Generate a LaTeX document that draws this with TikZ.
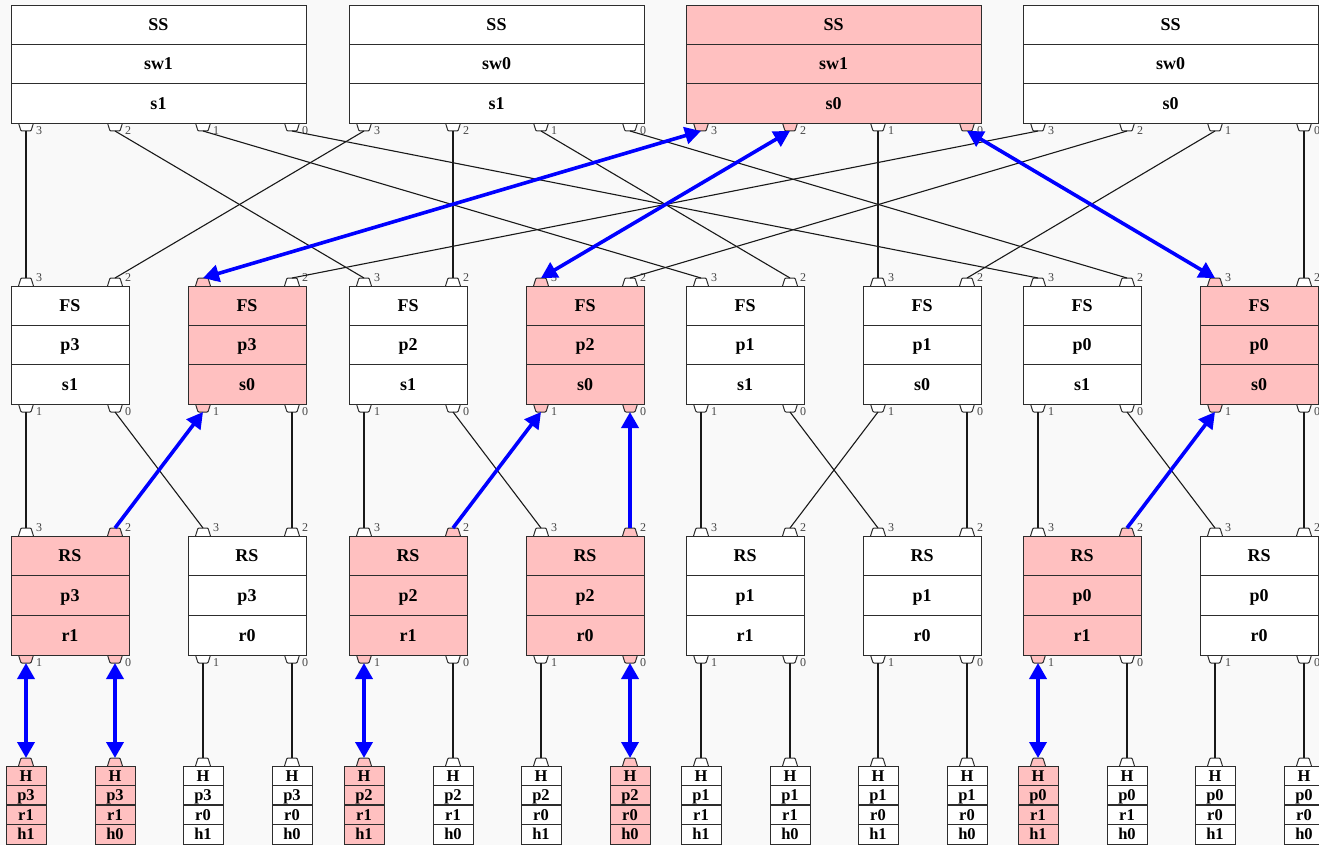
\documentclass[tikz,border=0pt]{standalone}
\usepackage{fontspec}
\setmainfont{Liberation Serif}
\usetikzlibrary{arrows.meta}
\definecolor{pinkfill}{RGB}{255,192,192}
\definecolor{bg}{RGB}{249,249,249}
\definecolor{edge}{RGB}{45,45,45}
\definecolor{lbl}{RGB}{70,70,70}
\definecolor{hotblue}{RGB}{0,0,255}

\newcommand\sethot[1]{\expandafter\def\csname hot-#1\endcsname{}}
\sethot{ss3p3}\sethot{ss3p2}\sethot{ss3p0}
\sethot{fs2p3}\sethot{fs4p3}\sethot{fs8p3}
\sethot{fs2p1}\sethot{fs4p1}\sethot{fs4p0}\sethot{fs8p1}
\sethot{rs1p2}\sethot{rs3p2}\sethot{rs4p2}\sethot{rs7p2}
\sethot{rs1p1}\sethot{rs1p0}\sethot{rs3p1}\sethot{rs4p0}\sethot{rs7p1}
\sethot{h1}\sethot{h2}\sethot{h5}\sethot{h8}\sethot{h13}

\tikzset{
  swbox/.style={draw=edge, line width=1.3pt, rectangle, inner sep=0pt, anchor=north west},
  boxline/.style={draw=edge, line width=1.3pt},
  rowtxt/.style={font=\fontsize{18}{20}\selectfont\bfseries, inner sep=0pt, text height=11.9pt, text depth=0pt},
  hosttxt/.style={font=\fontsize{16.5}{18}\selectfont\bfseries, inner sep=0pt, text height=10.9pt, text depth=0pt},
  portshape/.style={draw=edge, line width=1pt, rounded corners=1pt},
  portlbl/.style={font=\fontsize{12}{13}\selectfont, text=lbl, anchor=west, inner sep=0pt},
  link/.style={draw=black!90, line width=1.1pt},
  hot/.style={draw=hotblue, line width=3.6pt},
  both/.style={hot, {Triangle[length=16pt,width=17pt]}-{Triangle[length=16pt,width=17pt]}},
  one/.style={hot, -{Triangle[length=16pt,width=17pt]}},
}

% port below a box edge at y
\newcommand\portdn[4]{%
  \ifcsname hot-#1\endcsname\def\pf{pinkfill}\else\def\pf{white}\fi
  \filldraw[portshape, fill=\pf] ({#2-7.5},#3) -- ({#2-5},{#3+8}) -- ({#2+5},{#3+8}) -- ({#2+7.5},#3);
  \coordinate (#1) at (#2,{#3+8});
  \node[portlbl] at ({#2+10},{#3+8}) {#4};
}
% port above a box edge at y
\newcommand\portup[4]{%
  \ifcsname hot-#1\endcsname\def\pf{pinkfill}\else\def\pf{white}\fi
  \filldraw[portshape, fill=\pf] ({#2-7.5},#3) -- ({#2-5},{#3-8}) -- ({#2+5},{#3-8}) -- ({#2+7.5},#3);
  \coordinate (#1) at (#2,{#3-8});
  \node[portlbl] at ({#2+10},{#3-8}) {#4};
}
\newcommand\hostport[2]{%
  \ifcsname hot-#1\endcsname\def\pf{pinkfill}\else\def\pf{white}\fi
  \filldraw[portshape, fill=\pf] ({#2-7.5},766) -- ({#2-5},758) -- ({#2+5},758) -- ({#2+7.5},766);
  \coordinate (#1) at (#2,758);
}
% three-row box: name, left, top, width, height, fill, t1, t2, t3
\newcommand\tribox[9]{%
  \node[swbox, fill=#6, minimum width=#4pt, minimum height=#5pt] (#1) at (#2,#3) {};
  \draw[boxline] (#2,{#3+#5/3}) -- ({#2+#4},{#3+#5/3});
  \draw[boxline] (#2,{#3+2*#5/3}) -- ({#2+#4},{#3+2*#5/3});
  \node[rowtxt] (#1-t1) at ({#2+#4/2},{#3+#5/6}) {#7};
  \node[rowtxt] (#1-t2) at ({#2+#4/2},{#3+#5/2}) {#8};
  \node[rowtxt] (#1-t3) at ({#2+#4/2},{#3+5*#5/6}) {#9};
}
% host box: name, centre x, fill, t2, t3, t4
\newcommand\hostbox[6]{%
  \node[swbox, fill=#3, minimum width=40pt, minimum height=78pt] (#1box) at ({#2-20},766) {};
  \draw[boxline] ({#2-20},785.5) -- ({#2+20},785.5);
  \draw[boxline] ({#2-20},805) -- ({#2+20},805);
  \draw[boxline] ({#2-20},824.5) -- ({#2+20},824.5);
  \node[hosttxt] (#1-t1) at (#2,775.75) {H};
  \node[hosttxt] (#1-t2) at (#2,795.25) {#4};
  \node[hosttxt] (#1-t3) at (#2,814.75) {#5};
  \node[hosttxt] (#1-t4) at (#2,834.25) {#6};
}

\begin{document}
\begin{tikzpicture}[x=1pt,y=-1pt]
\useasboundingbox (0,0) rectangle (1319,845);
\fill[bg] (0,0) rectangle (1319,845);

% ---- ports ----
\foreach \i/\L in {1/11,2/349,3/686,4/1023}{
  \foreach \p/\dx in {3/15,2/104,1/192,0/281}{
    \portdn{ss\i p\p}{\L+\dx}{123}{\p}
  }
}
\foreach \i/\L in {1/11,2/188,3/349,4/526,5/686,6/863,7/1023,8/1200}{
  \portup{fs\i p3}{\L+15}{286}{3}
  \portup{fs\i p2}{\L+104}{286}{2}
  \portdn{fs\i p1}{\L+15}{404}{1}
  \portdn{fs\i p0}{\L+104}{404}{0}
  \portup{rs\i p3}{\L+15}{536}{3}
  \portup{rs\i p2}{\L+104}{536}{2}
  \portdn{rs\i p1}{\L+15}{655}{1}
  \portdn{rs\i p0}{\L+104}{655}{0}
}
\foreach \i/\c in {1/26,2/115,3/203,4/292,5/364,6/453,7/541,8/630,9/701,10/790,11/878,12/967,13/1038,14/1127,15/1215,16/1304}{
  \hostport{h\i}{\c}
}

% ---- boxes ----
\tribox{ss1}{11}{5}{295}{118}{white}{SS}{sw1}{s1}
\tribox{ss2}{349}{5}{295}{118}{white}{SS}{sw0}{s1}
\tribox{ss3}{686}{5}{295}{118}{pinkfill}{SS}{sw1}{s0}
\tribox{ss4}{1023}{5}{295}{118}{white}{SS}{sw0}{s0}

\tribox{fs1}{11}{286}{118}{118}{white}{FS}{p3}{s1}
\tribox{fs2}{188}{286}{118}{118}{pinkfill}{FS}{p3}{s0}
\tribox{fs3}{349}{286}{118}{118}{white}{FS}{p2}{s1}
\tribox{fs4}{526}{286}{118}{118}{pinkfill}{FS}{p2}{s0}
\tribox{fs5}{686}{286}{118}{118}{white}{FS}{p1}{s1}
\tribox{fs6}{863}{286}{118}{118}{white}{FS}{p1}{s0}
\tribox{fs7}{1023}{286}{118}{118}{white}{FS}{p0}{s1}
\tribox{fs8}{1200}{286}{118}{118}{pinkfill}{FS}{p0}{s0}

\tribox{rs1}{11}{536}{118}{119}{pinkfill}{RS}{p3}{r1}
\tribox{rs2}{188}{536}{118}{119}{white}{RS}{p3}{r0}
\tribox{rs3}{349}{536}{118}{119}{pinkfill}{RS}{p2}{r1}
\tribox{rs4}{526}{536}{118}{119}{pinkfill}{RS}{p2}{r0}
\tribox{rs5}{686}{536}{118}{119}{white}{RS}{p1}{r1}
\tribox{rs6}{863}{536}{118}{119}{white}{RS}{p1}{r0}
\tribox{rs7}{1023}{536}{118}{119}{pinkfill}{RS}{p0}{r1}
\tribox{rs8}{1200}{536}{118}{119}{white}{RS}{p0}{r0}

\hostbox{h1}{26}{pinkfill}{p3}{r1}{h1}
\hostbox{h2}{115}{pinkfill}{p3}{r1}{h0}
\hostbox{h3}{203}{white}{p3}{r0}{h1}
\hostbox{h4}{292}{white}{p3}{r0}{h0}
\hostbox{h5}{364}{pinkfill}{p2}{r1}{h1}
\hostbox{h6}{453}{white}{p2}{r1}{h0}
\hostbox{h7}{541}{white}{p2}{r0}{h1}
\hostbox{h8}{630}{pinkfill}{p2}{r0}{h0}
\hostbox{h9}{701}{white}{p1}{r1}{h1}
\hostbox{h10}{790}{white}{p1}{r1}{h0}
\hostbox{h11}{878}{white}{p1}{r0}{h1}
\hostbox{h12}{967}{white}{p1}{r0}{h0}
\hostbox{h13}{1038}{pinkfill}{p0}{r1}{h1}
\hostbox{h14}{1127}{white}{p0}{r1}{h0}
\hostbox{h15}{1215}{white}{p0}{r0}{h1}
\hostbox{h16}{1304}{white}{p0}{r0}{h0}

% ---- plain links ----
\draw[link] (ss1p3) -- (fs1p3);
\draw[link] (ss1p2) -- (fs3p3);
\draw[link] (ss1p1) -- (fs5p3);
\draw[link] (ss1p0) -- (fs7p3);
\draw[link] (ss2p3) -- (fs1p2);
\draw[link] (ss2p2) -- (fs3p2);
\draw[link] (ss2p1) -- (fs5p2);
\draw[link] (ss2p0) -- (fs7p2);
\draw[link] (ss3p1) -- (fs6p3);
\draw[link] (ss4p3) -- (fs2p2);
\draw[link] (ss4p2) -- (fs4p2);
\draw[link] (ss4p1) -- (fs6p2);
\draw[link] (ss4p0) -- (fs8p2);

\draw[link] (fs1p1) -- (rs1p3);
\draw[link] (fs1p0) -- (rs2p3);
\draw[link] (fs2p0) -- (rs2p2);
\draw[link] (fs3p1) -- (rs3p3);
\draw[link] (fs3p0) -- (rs4p3);
\draw[link] (fs5p1) -- (rs5p3);
\draw[link] (fs5p0) -- (rs6p3);
\draw[link] (fs6p1) -- (rs5p2);
\draw[link] (fs6p0) -- (rs6p2);
\draw[link] (fs7p1) -- (rs7p3);
\draw[link] (fs7p0) -- (rs8p3);
\draw[link] (fs8p0) -- (rs8p2);

\draw[link] (rs2p1) -- (h3);
\draw[link] (rs2p0) -- (h4);
\draw[link] (rs3p0) -- (h6);
\draw[link] (rs4p1) -- (h7);
\draw[link] (rs5p1) -- (h9);
\draw[link] (rs5p0) -- (h10);
\draw[link] (rs6p1) -- (h11);
\draw[link] (rs6p0) -- (h12);
\draw[link] (rs7p0) -- (h14);
\draw[link] (rs8p1) -- (h15);
\draw[link] (rs8p0) -- (h16);

% ---- highlighted path ----
\draw[both] (ss3p3) -- (fs2p3);
\draw[both] (ss3p2) -- (fs4p3);
\draw[both] (ss3p0) -- (fs8p3);
\draw[one] (rs1p2) -- (fs2p1);
\draw[one] (rs3p2) -- (fs4p1);
\draw[one] (rs4p2) -- (fs4p0);
\draw[one] (rs7p2) -- (fs8p1);
\draw[both] (rs1p1) -- (h1);
\draw[both] (rs1p0) -- (h2);
\draw[both] (rs3p1) -- (h5);
\draw[both] (rs4p0) -- (h8);
\draw[both] (rs7p1) -- (h13);
\end{tikzpicture}
\end{document}
